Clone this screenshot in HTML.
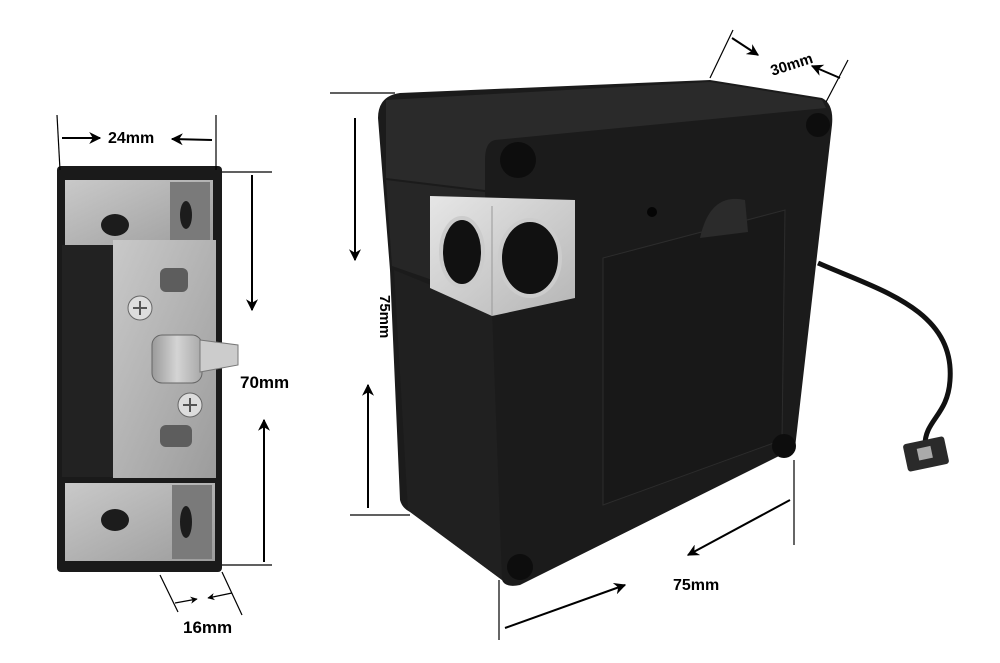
<!DOCTYPE html>
<html><head><style>html,body{margin:0;padding:0;background:#fff}svg{display:block}</style></head>
<body>
<svg width="1000" height="663" viewBox="0 0 1000 663" xmlns="http://www.w3.org/2000/svg" font-family="Liberation Sans, sans-serif">
<defs>
<marker id="ah" viewBox="0 0 10 10" refX="9" refY="5" markerWidth="6" markerHeight="6" orient="auto-start-reverse"><path d="M0,0 L10,5 L0,10 L3,5 z" fill="#000"/></marker>
<linearGradient id="met" x1="0" y1="0" x2="1" y2="0"><stop offset="0" stop-color="#9a9a9a"/><stop offset="0.5" stop-color="#d4d4d4"/><stop offset="1" stop-color="#a8a8a8"/></linearGradient>
<linearGradient id="plate" x1="0" y1="0" x2="1" y2="1"><stop offset="0" stop-color="#c9c9c9"/><stop offset="1" stop-color="#9c9c9c"/></linearGradient>
<linearGradient id="cube" x1="0" y1="0" x2="1" y2="1"><stop offset="0" stop-color="#e6e6e6"/><stop offset="1" stop-color="#b5b5b5"/></linearGradient>
</defs>

<!-- LEFT BRACKET -->
<rect x="57" y="166" width="165" height="406" rx="4" fill="#1a1a1a"/>
<rect x="65" y="180" width="148" height="70" fill="url(#plate)"/>
<rect x="170" y="182" width="40" height="66" fill="#7a7a7a"/>
<ellipse cx="115" cy="225" rx="14" ry="11" fill="#1c1c1c"/>
<ellipse cx="186" cy="215" rx="6" ry="14" fill="#1c1c1c"/>
<rect x="65" y="483" width="150" height="78" fill="url(#plate)"/>
<rect x="172" y="485" width="40" height="74" fill="#7a7a7a"/>
<ellipse cx="115" cy="520" rx="14" ry="11" fill="#1c1c1c"/>
<ellipse cx="186" cy="522" rx="6" ry="16" fill="#1c1c1c"/>
<rect x="62" y="245" width="52" height="232" fill="#222"/>
<rect x="113" y="240" width="103" height="238" fill="url(#plate)"/>
<rect x="160" y="268" width="28" height="24" rx="6" fill="#5d5d5d"/>
<circle cx="140" cy="308" r="12" fill="#ddd" stroke="#666"/>
<path d="M133,308h14M140,301v14" stroke="#555" stroke-width="2"/>
<rect x="152" y="335" width="50" height="48" rx="10" fill="url(#met)" stroke="#666"/>
<path d="M200,340 L238,345 L238,365 L200,372 z" fill="#ccc" stroke="#777"/>
<circle cx="190" cy="405" r="12" fill="#ddd" stroke="#666"/>
<path d="M183,405h14M190,398v14" stroke="#555" stroke-width="2"/>
<rect x="160" y="425" width="32" height="22" rx="6" fill="#5d5d5d"/>

<!-- left dims -->
<g stroke="#000" stroke-width="1.2" fill="none">
<line x1="57" y1="115" x2="60" y2="170"/><line x1="216" y1="115" x2="216" y2="170"/>
<line x1="62" y1="138" x2="100" y2="138" stroke-width="2" marker-end="url(#ah)"/>
<line x1="212" y1="140" x2="172" y2="139" stroke-width="2" marker-end="url(#ah)"/>
<line x1="222" y1="172" x2="272" y2="172"/><line x1="222" y1="565" x2="272" y2="565"/>
<line x1="252" y1="175" x2="252" y2="310" stroke-width="2" marker-end="url(#ah)"/>
<line x1="264" y1="562" x2="264" y2="420" stroke-width="2" marker-end="url(#ah)"/>
<line x1="160" y1="575" x2="178" y2="612"/><line x1="222" y1="572" x2="242" y2="615"/>
<line x1="175" y1="603" x2="197" y2="599" marker-end="url(#ah)"/>
<line x1="232" y1="593" x2="208" y2="598" marker-end="url(#ah)"/>
</g>
<text x="108" y="143" font-size="16" font-weight="bold">24mm</text>
<text x="240" y="388" font-size="17" font-weight="bold">70mm</text>
<text x="183" y="633" font-size="17" font-weight="bold">16mm</text>

<!-- RIGHT BOX -->
<path d="M378,118 Q378,96 400,93 L710,80 L822,98 Q834,104 832,125 L795,448 L520,585 Q505,588 502,580 L410,512 Q402,508 400,500 L390,270 z" fill="#1b1b1b"/>
<path d="M386,100 L710,82 L822,100 L826,108 L495,140 Q485,142 485,160 L485,190 L386,178 z" fill="#2a2a2a"/>
<path d="M386,180 L485,192 L490,300 L392,266 z" fill="#262626"/>
<path d="M394,270 L492,310 L502,580 L408,510 z" fill="#202020"/>
<path d="M603,258 L785,210 L782,440 L603,505 z" fill="#181818" stroke="#2c2c2c"/>
<circle cx="518" cy="160" r="18" fill="#0d0d0d"/>
<circle cx="818" cy="125" r="12" fill="#0d0d0d"/>
<circle cx="784" cy="446" r="12" fill="#0d0d0d"/>
<circle cx="520" cy="567" r="13" fill="#0d0d0d"/>
<circle cx="652" cy="212" r="5" fill="#050505"/>
<path d="M700,238 Q710,192 745,200 L748,232 z" fill="#2b2b2b"/>
<!-- metal cube -->
<path d="M430,196 L575,200 L575,298 L492,316 L430,288 z" fill="url(#cube)"/>
<line x1="492" y1="206" x2="492" y2="316" stroke="#999"/>
<ellipse cx="462" cy="252" rx="21" ry="34" fill="#111" stroke="#ccc" stroke-width="4"/>
<ellipse cx="530" cy="258" rx="30" ry="38" fill="#111" stroke="#ccc" stroke-width="4"/>
<!-- cable -->
<path d="M818,263 C880,290 955,310 950,380 C948,415 925,420 925,445" stroke="#111" stroke-width="5" fill="none"/>
<rect x="905" y="440" width="42" height="28" rx="3" fill="#2a2a2a" transform="rotate(-12 926 454)"/>
<rect x="918" y="447" width="14" height="12" fill="#aaa" transform="rotate(-12 926 454)"/>

<!-- right dims -->
<g stroke="#000" stroke-width="1.2" fill="none">
<line x1="330" y1="93" x2="395" y2="93"/><line x1="350" y1="515" x2="410" y2="515"/>
<line x1="355" y1="118" x2="355" y2="260" stroke-width="2" marker-end="url(#ah)"/>
<line x1="368" y1="508" x2="368" y2="385" stroke-width="2" marker-end="url(#ah)"/>
<line x1="733" y1="30" x2="710" y2="78"/><line x1="848" y1="60" x2="826" y2="102"/>
<line x1="732" y1="38" x2="758" y2="55" stroke-width="2" marker-end="url(#ah)"/>
<line x1="840" y1="78" x2="812" y2="66" stroke-width="2" marker-end="url(#ah)"/>
<line x1="499" y1="580" x2="499" y2="640"/><line x1="794" y1="460" x2="794" y2="545"/>
<line x1="505" y1="628" x2="625" y2="585" stroke-width="2" marker-end="url(#ah)"/>
<line x1="790" y1="500" x2="688" y2="555" stroke-width="2" marker-end="url(#ah)"/>
</g>
<text x="770" y="70" font-size="15" font-weight="bold" transform="rotate(-18 790 65)">30mm</text>
<text x="375" y="280" font-size="15" font-weight="bold" transform="rotate(90 370 290)">75mm</text>
<text x="673" y="590" font-size="16" font-weight="bold">75mm</text>
</svg>
</body></html>
